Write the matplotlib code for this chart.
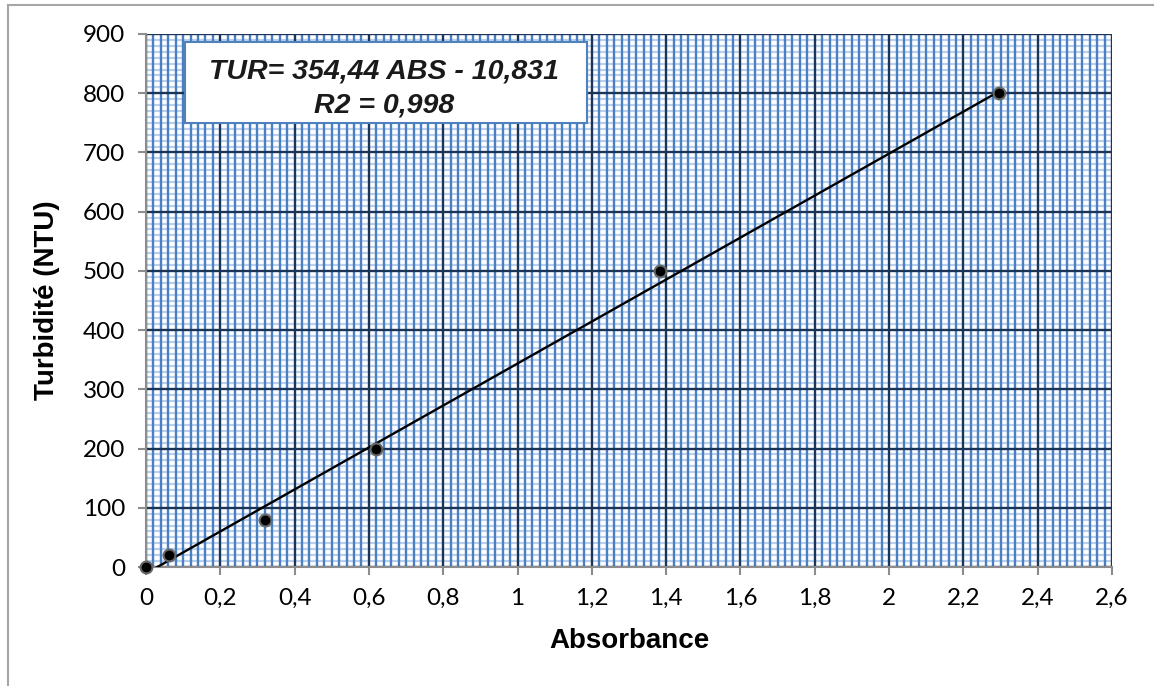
import matplotlib.pyplot as plt
from matplotlib.lines import Line2D
from matplotlib.patches import Rectangle
from matplotlib.ticker import MultipleLocator, FuncFormatter

# Calibration data (absorbance vs turbidity)
absorbance = [0.0, 0.062, 0.32, 0.62, 1.383, 2.297]
turbidity = [0, 20, 80, 200, 500, 800]

# Trendline from the label: TUR = 354,44 ABS - 10,831
slope = 354.44
intercept = -10.831
fit_x = [0.0, 2.297]
fit_y = [slope * x + intercept for x in fit_x]

x_ticks = [0, 0.2, 0.4, 0.6, 0.8, 1, 1.2, 1.4, 1.6, 1.8, 2, 2.2, 2.4, 2.6]
y_ticks = [0, 100, 200, 300, 400, 500, 600, 700, 800, 900]

fig = plt.figure(figsize=(11.54, 6.86), dpi=100)
ax = fig.add_axes([146 / 1154, 1 - 567 / 686, 966 / 1154, 533 / 686])

ax.set_xlim(0, 2.6)
ax.set_ylim(0, 900)
ax.set_xticks(x_ticks)
ax.set_yticks(y_ticks)
ax.xaxis.set_minor_locator(MultipleLocator(0.02))
ax.yaxis.set_minor_locator(MultipleLocator(10))

comma = FuncFormatter(lambda v, p: f"{v:g}".replace(".", ","))
ax.xaxis.set_major_formatter(comma)
ax.yaxis.set_major_formatter(comma)

# graph paper grid: light horizontals under the blue verticals, dark majors on top
ax.set_axisbelow(True)
ax.yaxis.set_zorder(0.3)
ax.xaxis.set_zorder(0.5)
ax.grid(which="minor", axis="y", color="#b9cfec", lw=1.6)
ax.grid(which="minor", axis="x", color="#4a7fc4", lw=1.7)
ax.grid(which="major", axis="x", color="#1b3558", lw=1.7)
for yv in y_ticks:
    ax.axhline(yv, color="#1b3558", lw=1.7, zorder=0.8)

for s in ["top", "right"]:
    ax.spines[s].set_visible(False)
for s in ["left", "bottom"]:
    ax.spines[s].set_color("#8c8c8c")
    ax.spines[s].set_linewidth(1.5)
    ax.spines[s].set_zorder(3)

ax.tick_params(which="major", direction="out", length=6, width=1.5, color="#8c8c8c",
               labelsize=17.5, pad=9)
ax.tick_params(which="minor", length=0)
for lab in ax.get_xticklabels() + ax.get_yticklabels():
    lab.set_family("Lato")

ax.plot(fit_x, fit_y, color="black", lw=1.7, zorder=4)
ax.plot(absorbance, turbidity, "o", ms=8.5, mfc="black", mec="#666666", mew=1.5,
        zorder=5, clip_on=False)

ax.set_xlabel("Absorbance", fontsize=20, fontweight="bold", family="Liberation Sans", va="center")
ax.xaxis.set_label_coords(0.5, (567 - 641) / 533)
ax.set_ylabel("Turbidité (NTU)", fontsize=20, fontweight="bold", family="Liberation Sans", va="center")
ax.yaxis.set_label_coords((47 - 146) / 966, 0.5)

# equation box
ax.add_patch(Rectangle((0.0404, 0.833), 0.4161, 0.152, transform=ax.transAxes,
                       facecolor="white", edgecolor="#4f81bd", lw=1.5, zorder=6))
ax.text(0.2464, 0.9156, "TUR= 354,44 ABS - 10,831", transform=ax.transAxes,
        ha="center", va="baseline", fontsize=20.5, fontweight="bold", style="italic",
        family="Liberation Sans", color="#1a1a1a", zorder=7)
ax.text(0.2464, 0.8518, "R2 = 0,998", transform=ax.transAxes,
        ha="center", va="baseline", fontsize=20.5, fontweight="bold", style="italic",
        family="Liberation Sans", color="#1a1a1a", zorder=7)

# outer chart frame (left and top edges)
fig.add_artist(Line2D([8 / 1154, 8 / 1154], [0, 1 - 5 / 686], transform=fig.transFigure,
                      color="#a6a6a6", lw=1.5))
fig.add_artist(Line2D([8 / 1154, 1], [1 - 5 / 686, 1 - 5 / 686], transform=fig.transFigure,
                      color="#a6a6a6", lw=1.5))

fig.savefig("out.png", dpi=100, facecolor="white")
